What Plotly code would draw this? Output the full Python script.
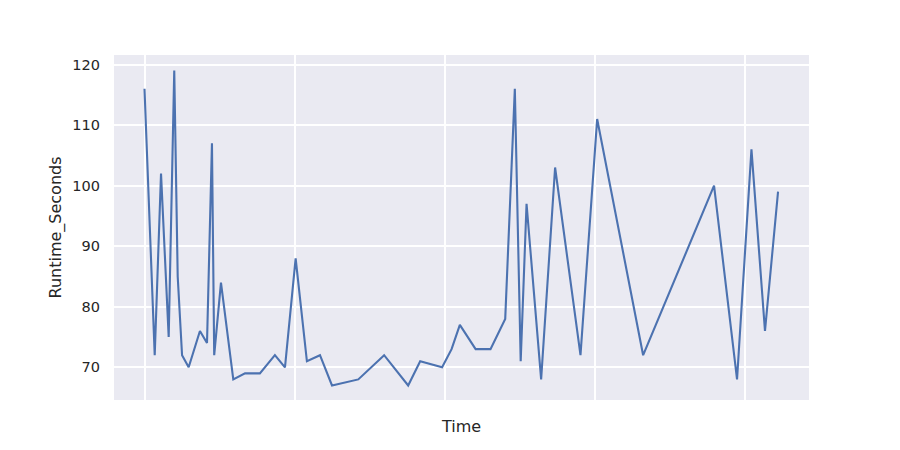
import plotly.graph_objects as go

time = [0.0, 0.68, 1.1, 1.61, 1.98, 2.21, 2.5, 2.94, 3.69, 4.16, 4.49, 4.64, 5.09, 5.91,
        6.69, 7.68, 8.68, 9.35, 10.06, 10.81, 11.68, 12.48, 14.23, 15.95, 17.55, 18.35,
        19.81, 20.44, 20.99, 22.04, 23.03, 24.01, 24.65, 25.04, 25.43, 26.4, 27.33, 29.02,
        30.13, 33.19, 37.91, 39.44, 40.4, 41.3, 42.17]
runtime = [116, 72, 102, 75, 119, 85, 72, 70, 76, 74, 107, 72, 84, 68,
           69, 69, 72, 70, 88, 71, 72, 67, 68, 72, 67, 71,
           70, 73, 77, 73, 73, 78, 116, 71, 97, 68, 103, 72,
           111, 72, 100, 68, 106, 76, 99]
x_grid = [0, 10, 20, 30, 40]
y_ticks = [70, 80, 90, 100, 110, 120]

fig = go.Figure(go.Scatter(x=time, y=runtime, mode="lines",
                           line=dict(color="#4c72b0", width=2.1), showlegend=False))

font = dict(family="DejaVu Sans", color="#262626")
fig.update_layout(
    width=900, height=450,
    margin=dict(l=106, r=99, t=47, b=58),
    paper_bgcolor="white", plot_bgcolor="#eaeaf2",
    font=font,
    xaxis=dict(range=[-2.03, 44.23], tickvals=x_grid, showticklabels=False,
               showgrid=True, gridcolor="white", gridwidth=1.5, zeroline=False,
               title=dict(text="Time", font=dict(size=16, family="DejaVu Sans", color="#262626"), standoff=20),
               showline=False, ticks=""),
    yaxis=dict(range=[64.6, 121.58], tickvals=y_ticks,
               showgrid=True, gridcolor="white", gridwidth=1.5, zeroline=False,
               tickfont=dict(size=14.5, family="DejaVu Sans", color="#262626"),
               ticklabelstandoff=13,
               title=dict(text="Runtime_Seconds", font=dict(size=16, family="DejaVu Sans", color="#262626"), standoff=6),
               ticks="", ticklen=0, showline=False),
)
fig.write_html("out.html")
